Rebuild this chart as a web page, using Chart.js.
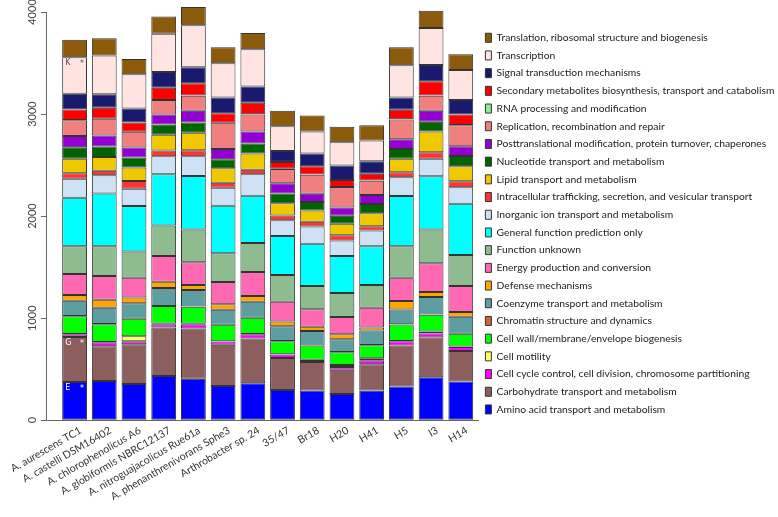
<!DOCTYPE html>
<html>
<head>
<meta charset="utf-8">
<script src="https://cdn.jsdelivr.net/npm/chart.js@4.4.0/dist/chart.umd.min.js"></script>
<style>
  html, body { margin: 0; padding: 0; background: #fff; }
</style>
</head>
<body>
<canvas id="cogChart" width="778" height="517"></canvas>
<script>
// strains (x axis)
var strains = ["A. aurescens TC1", "A. castelli DSM16402", "A. chlorophenolicus A6",
  "A. globiformis NBRC12137", "A. nitroguajacolicus Rue61a", "A. phenanthrenivorans Sphe3",
  "Arthrobacter sp. 24", "35/47", "Br18", "H20", "H41", "H5", "I3", "H14"];

// COG categories, bottom of the stack first
var cogNames = ["Amino acid transport and metabolism", "Carbohydrate transport and metabolism",
  "Cell cycle control, cell division, chromosome partitioning", "Cell motility",
  "Cell wall/membrane/envelope biogenesis", "Chromatin structure and dynamics",
  "Coenzyme transport and metabolism", "Defense mechanisms", "Energy production and conversion",
  "Function unknown", "General function prediction only", "Inorganic ion transport and metabolism",
  "Intracellular trafficking, secretion, and vesicular transport", "Lipid transport and metabolism",
  "Nucleotide transport and metabolism", "Posttranslational modification, protein turnover, chaperones",
  "Replication, recombination and repair", "RNA processing and modification",
  "Secondary metabolites biosynthesis, transport and catabolism", "Signal transduction mechanisms",
  "Transcription", "Translation, ribosomal structure and biogenesis"];

var cogColors = ["#0000ff", "#8c5e5e", "#ff00ff", "#ffff66", "#00ff00", "#cc6633", "#5f9ea0",
  "#ffa500", "#ff69b4", "#8fbc8f", "#00ffff", "#cfe2f5", "#ff3333", "#f0c800", "#006400",
  "#9400d3", "#f08080", "#90ee90", "#ff0000", "#191970", "#ffe4e1", "#8b5a0a"];

var amino       = [374, 384, 354, 433, 406, 334, 361, 295, 292, 256, 292, 331, 420, 380];
var carb        = [442, 340, 390, 475, 492, 404, 439, 315, 278, 239, 255, 400, 390, 299];
var cellCycle   = [26, 40, 30, 33, 43, 32, 42, 33, 20, 26, 40, 43, 39, 39];
var motility    = [3, 3, 49, 3, 3, 3, 3, 3, 3, 20, 19, 3, 20, 3];
var cellWall    = [174, 174, 170, 174, 167, 161, 158, 128, 138, 124, 128, 161, 164, 125];
var chromatin   = [2, 2, 2, 2, 2, 2, 2, 2, 2, 2, 2, 2, 2, 2];
var coenzyme    = [149, 158, 152, 175, 162, 146, 155, 145, 142, 126, 142, 145, 171, 165];
var defense     = [56, 79, 56, 62, 49, 55, 56, 46, 40, 49, 30, 82, 49, 46];
var energy      = [206, 233, 193, 252, 223, 217, 236, 193, 173, 168, 193, 229, 282, 255];
var unknown     = [273, 292, 256, 299, 321, 282, 285, 263, 226, 236, 223, 309, 331, 305];
var general     = [475, 517, 446, 501, 525, 465, 463, 383, 414, 363, 381, 491, 522, 502];
var inorganic   = [187, 178, 170, 177, 193, 177, 209, 154, 170, 151, 154, 184, 173, 161];
var trafficking = [52, 45, 76, 56, 59, 49, 46, 46, 46, 53, 42, 49, 63, 59];
var lipid       = [144, 135, 131, 154, 171, 141, 158, 121, 111, 111, 128, 134, 203, 147];
var nucleotide  = [112, 101, 98, 102, 101, 89, 98, 95, 82, 79, 89, 95, 95, 102];
var posttrans   = [111, 109, 99, 98, 115, 101, 118, 99, 82, 82, 88, 96, 108, 95];
var replication = [154, 163, 154, 141, 148, 256, 167, 141, 187, 200, 141, 193, 148, 206];
var rnaProc     = [1, 1, 1, 1, 1, 1, 1, 1, 1, 1, 1, 1, 1, 1];
var secondary   = [104, 108, 90, 120, 120, 94, 114, 68, 81, 68, 68, 94, 140, 104];
var signal      = [154, 131, 138, 154, 157, 154, 160, 108, 125, 141, 121, 121, 160, 141];
var transcr     = [358, 380, 335, 374, 413, 335, 364, 242, 216, 229, 203, 315, 361, 295];
var translation = [170, 170, 150, 171, 178, 157, 158, 151, 157, 151, 151, 177, 170, 154];

var cogValues = [amino, carb, cellCycle, motility, cellWall, chromatin, coenzyme, defense, energy,
  unknown, general, inorganic, trafficking, lipid, nucleotide, posttrans, replication, rnaProc,
  secondary, signal, transcr, translation];

var yTicks = [0, 1000, 2000, 3000, 4000];

// COG letters marked in the first bar (E, G, K)
var markLetters = ["E", "G", "K"];
var markSets = [0, 1, 20];
var markColors = ["#ffffff", "#ffffff", "#555555"];

var datasets = cogNames.map(function(name, i) {
  return {
    label: name,
    data: cogValues[i],
    backgroundColor: cogColors[i],
    borderColor: "#333",
    borderWidth: 1,
    borderSkipped: false,
    barPercentage: 0.835,
    categoryPercentage: 1,
    clip: false
  };
});

var letterPlugin = {
  id: "cogLetters",
  afterDatasetsDraw: function(chart) {
    var ctx = chart.ctx;
    ctx.save();
    ctx.font = "8px 'DejaVu Sans'";
    ctx.textBaseline = "middle";
    markSets.forEach(function(ds, k) {
      var bar = chart.getDatasetMeta(ds).data[0];
      ctx.fillStyle = markColors[k];
      ctx.textAlign = "left";
      ctx.fillText(markLetters[k], bar.x - bar.width / 2 + 3, bar.y + 6);
      ctx.textAlign = "right";
      ctx.fillText("*", bar.x + bar.width / 2 - 3, bar.y + 7);
    });
    ctx.restore();
  }
};

// y tick labels, turned to read upwards like in the original
var yLabelPlugin = {
  id: "yLabels",
  afterDraw: function(chart) {
    var ctx = chart.ctx;
    var ys = chart.scales.y;
    ctx.save();
    ctx.font = "11px Lato";
    ctx.fillStyle = "#444";
    ctx.textAlign = "center";
    ctx.textBaseline = "middle";
    yTicks.forEach(function(v) {
      ctx.save();
      ctx.translate(ys.right - 14, ys.getPixelForValue(v));
      ctx.rotate(-Math.PI / 2);
      ctx.fillText(String(v), 0, 0);
      ctx.restore();
    });
    ctx.restore();
  }
};

new Chart(document.getElementById("cogChart"), {
  type: "bar",
  data: { labels: strains.map(function(s, i) { return i; }), datasets: datasets },
  plugins: [letterPlugin, yLabelPlugin],
  options: {
    responsive: false,
    animation: false,
    devicePixelRatio: 1,
    layout: { padding: { left: 20, top: 12, right: 0, bottom: 10 } },
    scales: {
      x: {
        type: "linear",
        stacked: true,
        min: -0.93,
        max: 13.58,
        offset: false,
        grid: { display: false, drawTicks: false },
        border: { display: true, color: "#666", width: 1 },
        ticks: {
          stepSize: 1,
          autoSkip: false,
          maxTicksLimit: 20,
          includeBounds: false,
          minRotation: 30,
          maxRotation: 30,
          padding: 4,
          labelOffset: 6,
          color: "#333",
          font: { family: "Lato", size: 10.5 },
          callback: function(v) { return strains[v] || ""; }
        }
      },
      y: {
        stacked: true,
        min: 0,
        max: 4000,
        afterBuildTicks: function(scale) {
          scale.ticks = yTicks.map(function(v) { return { value: v }; });
        },
        grid: { display: true, drawOnChartArea: false, drawTicks: true, tickLength: 6, color: "#666" },
        border: { display: true, color: "#666", width: 1 },
        ticks: { display: false }
      }
    },
    plugins: {
      tooltip: { enabled: false },
      legend: {
        position: "right",
        align: "start",
        reverse: true,
        maxWidth: 300,
        title: { display: true, text: "", padding: { top: 12, bottom: 0 }, font: { size: 1 } },
        labels: {
          boxWidth: 6,
          boxHeight: 9,
          padding: 7.4,
          color: "#222",
          font: { family: "Lato", size: 10.3 }
        }
      }
    }
  }
});
</script>
</body>
</html>
